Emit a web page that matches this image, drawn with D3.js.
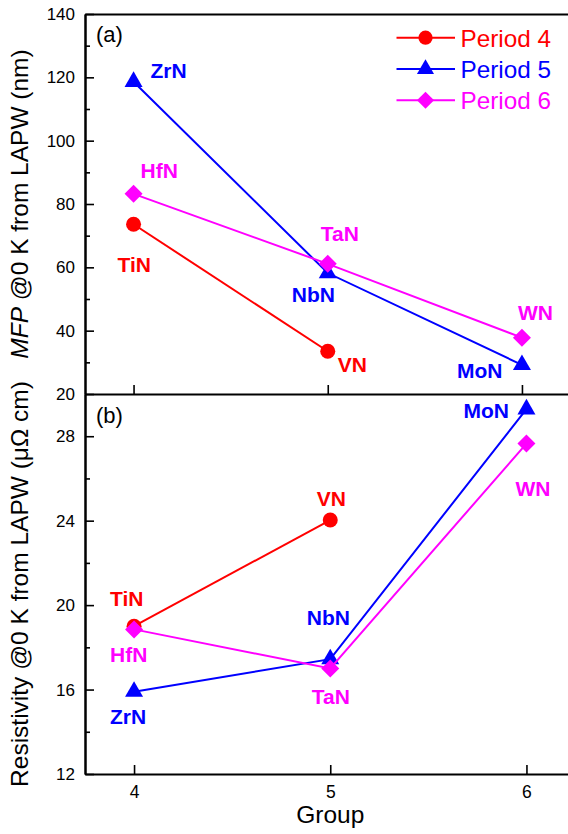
<!DOCTYPE html>
<html>
<head>
<meta charset="utf-8">
<script src="https://cdn.jsdelivr.net/npm/d3@7"></script>
<style>
  html, body { margin: 0; padding: 0; background: #fff; }
  svg { display: block; font-family: "Liberation Sans", Arial, sans-serif; }
</style>
</head>
<body>
<svg id="chart" width="568" height="834"></svg>
<script>
// Groups of the periodic table on the x axis
const groups = [4, 5, 6];
const periods = ["Period 4", "Period 5", "Period 6"];

// Compound names per period (group 4, 5, 6)
const names4 = ["TiN", "VN"];
const names5 = ["ZrN", "NbN", "MoN"];
const names6 = ["HfN", "TaN", "WN"];

// (a) electron mean free path at 0 K from LAPW, nm
const mfp4 = [73.6, 33.5];
const mfp5 = [118.6, 58.2, 29.2];
const mfp6 = [83.2, 61.1, 37.8];

// (b) resistivity at 0 K from LAPW, µΩ cm
const rho4 = [19.0, 24.03];
const rho5 = [15.9, 17.44, 29.28];
const rho6 = [18.85, 17.0, 27.65];

// Tick values
const mfpTicks = [20, 40, 60, 80, 100, 120, 140];
const mfpMinor = [30, 50, 70, 90, 110, 130];
const rhoTicks = [12, 16, 20, 24, 28];
const rhoMinor = [14, 18, 22, 26];
const groupTicks = [4, 5, 6];

const colors = ["#ff0000", "#0000ff", "#ff00ff"];
const shapes = ["circle", "triangle", "diamond"];

const svg = d3.select("#chart");

const left = 85, midY = 394, topY = 14, botY = 774;
const xTop = d3.scaleLinear([3.75, 6.25], [left, 570.5]);
const xBot = d3.scaleLinear([3.75, 6.25], [left, 575.5]);
const yTop = d3.scaleLinear([20, 140], [midY, topY]);
const yBot = d3.scaleLinear([12, 30], [botY, midY]);

function styleAxis(g, fontSize) {
  g.selectAll("path.domain").attr("stroke", "#000").attr("stroke-width", 2);
  g.selectAll(".tick line").attr("stroke", "#000").attr("stroke-width", 1.6);
  g.selectAll(".tick text")
    .attr("fill", "#000")
    .style("font-family", '"Liberation Sans", Arial, sans-serif')
    .style("font-size", fontSize + "px");
}

// ---- panel (a) axes ----
svg.append("g").attr("transform", `translate(${left},0)`)
  .call(d3.axisLeft(yTop).tickValues(mfpMinor).tickSize(-5).tickSizeOuter(0).tickFormat(""))
  .call(g => styleAxis(g, 17));
svg.append("g").attr("transform", `translate(${left},0)`)
  .call(d3.axisLeft(yTop).tickValues(mfpTicks).tickSize(-9).tickSizeOuter(0).tickPadding(10).tickFormat(d3.format("d")))
  .call(g => styleAxis(g, 17));
svg.append("g").attr("transform", `translate(0,${topY})`)
  .call(d3.axisTop(xTop).tickValues([]).tickSizeOuter(0))
  .call(g => styleAxis(g, 17));
svg.append("g").attr("transform", `translate(0,${midY})`)
  .call(d3.axisBottom(xTop).tickValues(groupTicks).tickSize(-9).tickSizeOuter(0).tickFormat(""))
  .call(g => styleAxis(g, 17));

// ---- panel (b) axes ----
svg.append("g").attr("transform", `translate(${left},0)`)
  .call(d3.axisLeft(yBot).tickValues(rhoMinor).tickSize(-5).tickSizeOuter(0).tickFormat(""))
  .call(g => styleAxis(g, 17));
svg.append("g").attr("transform", `translate(${left},0)`)
  .call(d3.axisLeft(yBot).tickValues(rhoTicks).tickSize(-9).tickSizeOuter(0).tickPadding(10).tickFormat(d3.format("d")))
  .call(g => styleAxis(g, 17));
svg.append("g").attr("transform", `translate(0,${botY})`)
  .call(d3.axisBottom(xBot).tickValues(groupTicks).tickSize(-9).tickSizeOuter(0).tickPadding(12).tickFormat(d3.format("d")))
  .call(g => styleAxis(g, 17.5));

// ---- axis titles ----
const titleA = svg.append("text")
  .attr("transform", `translate(28,${(topY + midY) / 2}) rotate(-90)`)
  .attr("text-anchor", "middle").style("font-size", "24.5px").attr("fill", "#000");
titleA.append("tspan").style("font-style", "italic").text("MFP");
titleA.append("tspan").text(" @0 K from LAPW (nm)");

svg.append("text")
  .attr("transform", `translate(28,${(midY + botY) / 2}) rotate(-90)`)
  .attr("text-anchor", "middle").style("font-size", "24.5px").attr("fill", "#000")
  .text("Resistivity @0 K from LAPW (\u03bc\u03a9 cm)");

svg.append("text")
  .attr("x", xBot(5)).attr("y", 823)
  .attr("text-anchor", "middle").style("font-size", "24.5px").attr("fill", "#000")
  .text("Group");

svg.append("text").attr("x", 96).attr("y", 41.5).style("font-size", "22px").text("(a)");
svg.append("text").attr("x", 96).attr("y", 422.5).style("font-size", "22px").text("(b)");

// ---- markers ----
function marker(sel, shape, color, scale) {
  const s = scale || 1;
  if (shape === "circle") {
    sel.append("circle").attr("r", 7.5 * s).attr("fill", color);
  } else if (shape === "triangle") {
    const w = 18 * s, h = w * Math.sqrt(3) / 2;
    sel.append("path")
      .attr("d", `M0,${-2 * h / 3}L${w / 2},${h / 3}L${-w / 2},${h / 3}Z`)
      .attr("fill", color);
  } else {
    const r = 9 * s;
    sel.append("path")
      .attr("d", `M0,${-r}L${r},0L0,${r}L${-r},0Z`)
      .attr("fill", color);
  }
}

// label offsets from each point (dx, dy to text baseline start)
const offA = [
  [[-16, 48], [10, 21]],
  [[17, -4], [-36, 29], [-65, 13]],
  [[7, -16], [-7, -22.5], [-4, -18]]
];
const offB = [
  [[-24, -20], [-13.5, -14.5]],
  [[-24, 32], [-23.5, -34], [-63, 9]],
  [[-24, 33], [-18.5, 35.5], [-11, 52.5]]
];

function drawPanel(x, y, seriesVals, seriesNames, offsets) {
  seriesVals.forEach((vals, i) => {
    const pts = vals.map((v, j) => ({ g: groups[j], v, name: seriesNames[i][j], off: offsets[i][j] }));
    const line = d3.line().x(d => x(d.g)).y(d => y(d.v));
    svg.append("path").datum(pts)
      .attr("d", line).attr("fill", "none")
      .attr("stroke", colors[i]).attr("stroke-width", 2);
    pts.forEach(d => {
      const g = svg.append("g").attr("transform", `translate(${x(d.g)},${y(d.v)})`);
      marker(g, shapes[i], colors[i]);
      svg.append("text")
        .attr("x", x(d.g) + d.off[0]).attr("y", y(d.v) + d.off[1])
        .style("font-size", "21px").style("font-weight", "bold")
        .attr("fill", colors[i]).text(d.name);
    });
  });
}

const namesAll = [names4, names5, names6];
drawPanel(xTop, yTop, [mfp4, mfp5, mfp6], namesAll, offA);
drawPanel(xBot, yBot, [rho4, rho5, rho6], namesAll, offB);

// ---- legend ----
periods.forEach((p, i) => {
  const ly = 37.7 + i * 31.3;
  const g = svg.append("g");
  g.append("line").attr("x1", 396.5).attr("x2", 455).attr("y1", ly).attr("y2", ly)
    .attr("stroke", colors[i]).attr("stroke-width", 2);
  const m = g.append("g").attr("transform", `translate(425.5,${ly})`);
  marker(m, shapes[i], colors[i], 0.95);
  g.append("text").attr("x", 460.5).attr("y", ly + 8.8)
    .style("font-size", "24.3px").attr("fill", colors[i]).text(p);
});
</script>
</body>
</html>
